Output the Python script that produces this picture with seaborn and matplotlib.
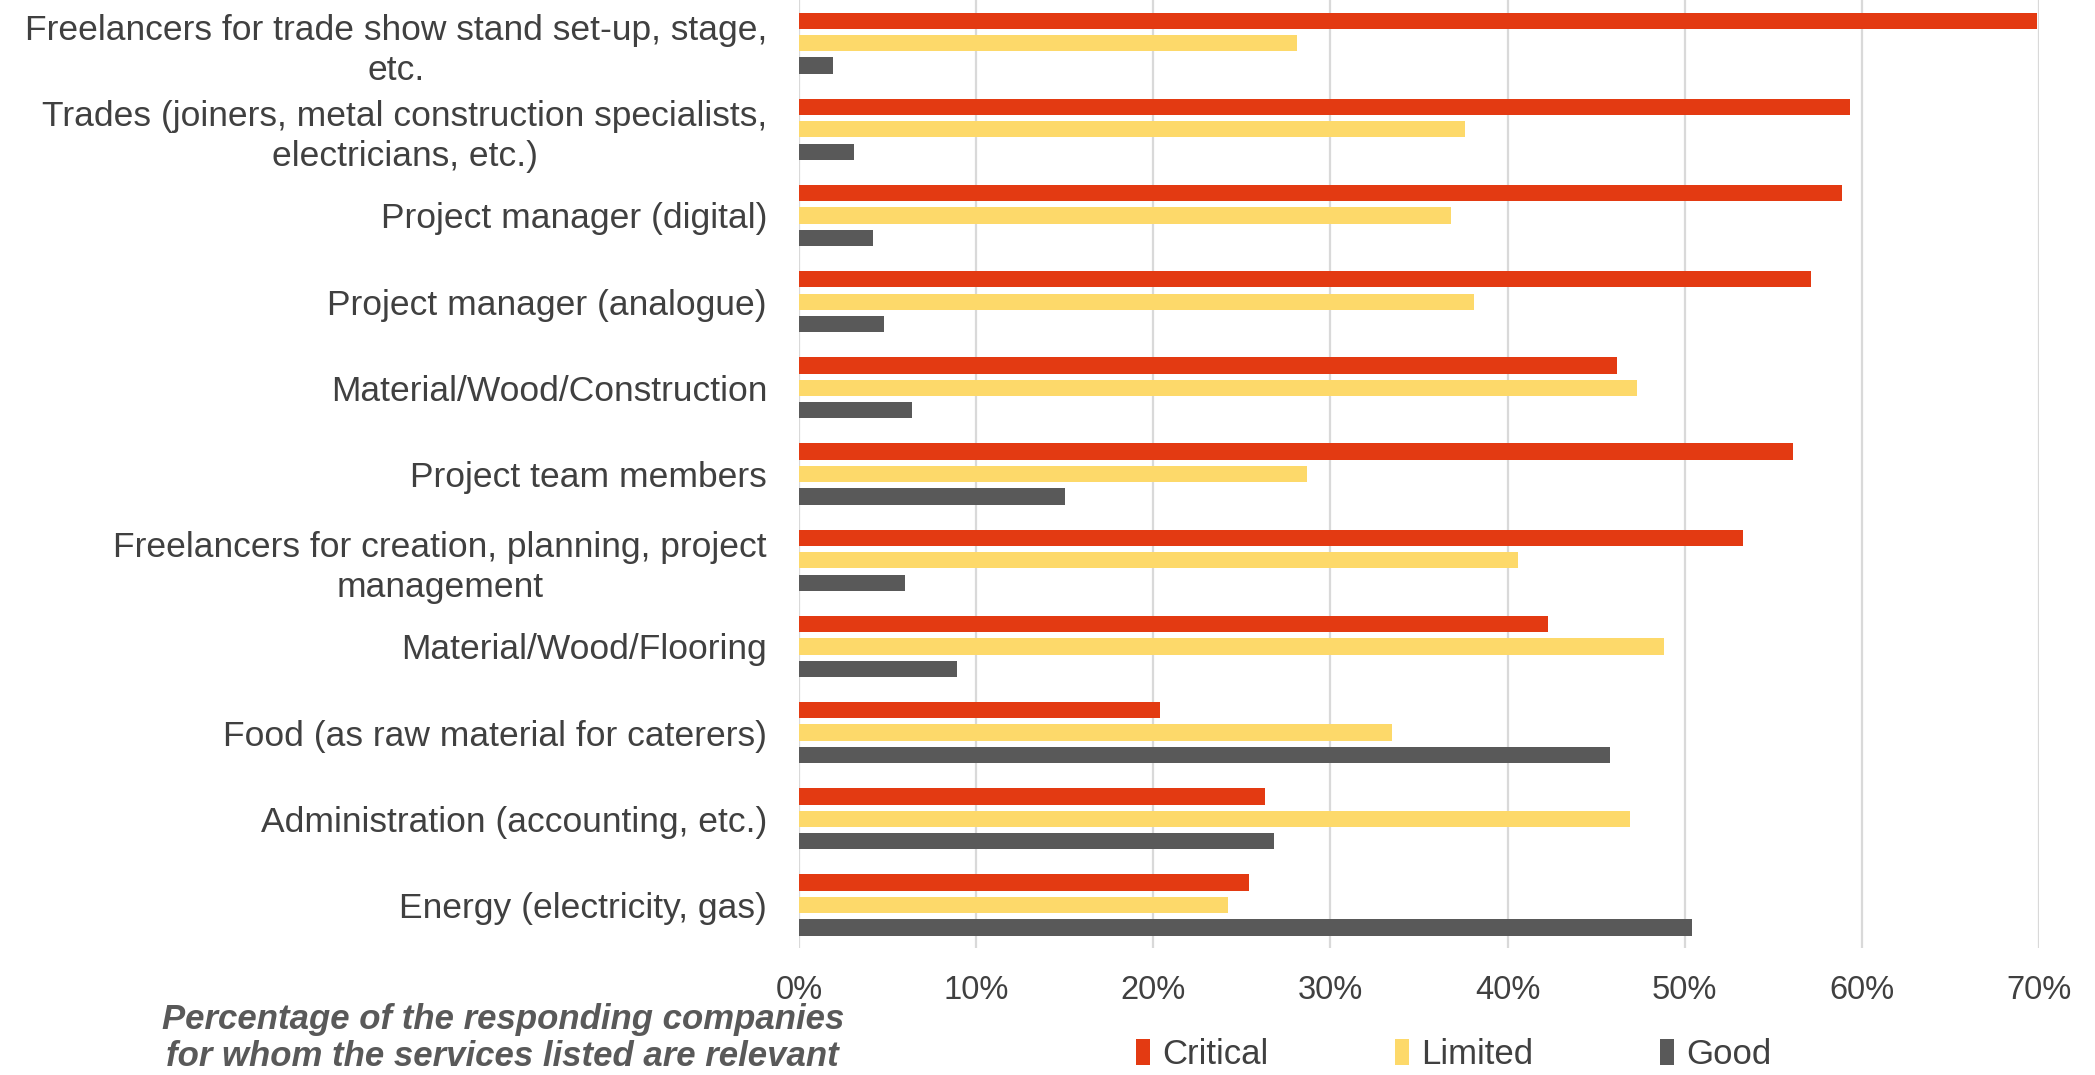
import matplotlib
matplotlib.use("Agg")
import matplotlib.pyplot as plt
import seaborn as sns
import pandas as pd
from matplotlib.patches import Patch

categories = [
    "Freelancers for trade show stand set-up, stage,\netc.",
    "Trades (joiners, metal construction specialists,\nelectricians, etc.)",
    "Project manager (digital)",
    "Project manager (analogue)",
    "Material/Wood/Construction",
    "Project team members",
    "Freelancers for creation, planning, project\nmanagement",
    "Material/Wood/Flooring",
    "Food (as raw material for caterers)",
    "Administration (accounting, etc.)",
    "Energy (electricity, gas)",
]
critical = [69.9, 59.3, 58.9, 57.1, 46.2, 56.1, 53.3, 42.3, 20.4, 26.3, 25.4]
limited = [28.1, 37.6, 36.8, 38.1, 47.3, 28.7, 40.6, 48.8, 33.5, 46.9, 24.2]
good = [1.9, 3.1, 4.2, 4.8, 6.4, 15.0, 6.0, 8.9, 45.8, 26.8, 50.4]
series_names = ["Critical", "Limited", "Good"]
tick_values = [0, 10, 20, 30, 40, 50, 60, 70]
note = "Percentage of the responding companies\nfor whom the services listed are relevant"

colors = {"Critical": "#E33A12", "Limited": "#FDD96A", "Good": "#595959"}
text_color = "#404040"

rows = []
for name, vals in zip(series_names, [critical, limited, good]):
    for cat, v in zip(categories, vals):
        rows.append({"category": cat, "status": name, "share": v})
df = pd.DataFrame(rows)

sns.set_theme(style="white")
plt.rcParams["font.family"] = ["Liberation Sans", "DejaVu Sans"]

fig = plt.figure(figsize=(20.95, 10.75), dpi=100)
ax = fig.add_axes([0.3814, 0.118, 0.5919, 0.882])

sns.barplot(
    data=df, y="category", x="share", hue="status", orient="h",
    order=categories, hue_order=series_names, palette=colors,
    saturation=1, width=0.78, gap=0.27, ax=ax, legend=False,
    errorbar=None, edgecolor="none",
)

ax.set_xlim(0, 70)
ax.set_ylim(10.5, -0.5)
ax.set_xticks(tick_values)
ax.set_xticklabels([f"{v}%" for v in tick_values])
ax.set_xlabel("")
ax.set_ylabel("")
ax.grid(axis="x", color="#D9D9D9", linewidth=1.6)
ax.grid(axis="y", visible=False)
ax.set_axisbelow(True)
for s in ax.spines.values():
    s.set_visible(False)

ax.tick_params(axis="x", length=0, pad=19, labelsize=23.5, labelcolor=text_color)
ax.tick_params(axis="y", length=0, pad=23, labelsize=25.5, labelcolor=text_color)
for t in ax.get_yticklabels():
    t.set_multialignment("center")
    t.set_linespacing(1.27)

handles = [Patch(facecolor=colors[n], edgecolor="none") for n in series_names]
fig.legend(
    handles, series_names, loc="center", bbox_to_anchor=(0.694, 0.019),
    ncol=3, frameon=False, fontsize=25, labelcolor=text_color,
    handlelength=0.4, handleheight=0.75, handletextpad=0.35,
    columnspacing=3.65,
)

fig.text(0.24, 0.002, note, ha="center", va="bottom", fontsize=25,
         fontweight="bold", fontstyle="italic", color="#595959",
         linespacing=1.15)

fig.savefig("out.png", dpi=100)
